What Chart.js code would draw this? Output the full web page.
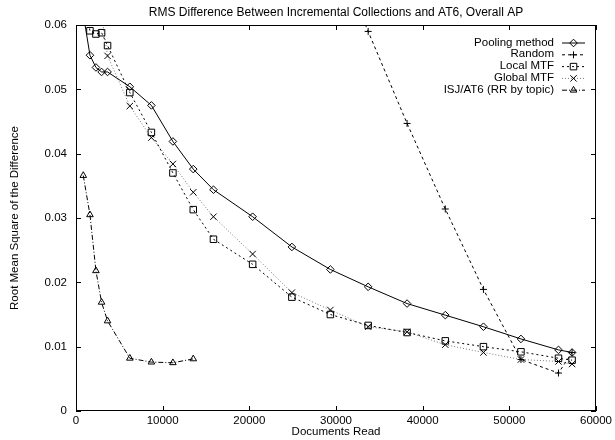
<!DOCTYPE html>
<html>
<head>
<meta charset="utf-8">
<script src="https://cdn.jsdelivr.net/npm/chart.js@4.4.0/dist/chart.umd.min.js"></script>
<style>
  body { margin: 0; background: #fff; }
  canvas { display: block; }
</style>
</head>
<body>
<canvas id="rmsChart" width="615" height="440"></canvas>
<script>
// documents read (x) and RMS difference (y) per method
const poolingX = [840, 1610, 2300, 2950, 3640, 6210, 8700, 11180, 13530, 15860, 20380, 24910, 29350, 33710, 38200, 42610, 47010, 51340, 55670, 57240];
const poolingY = [0.0617, 0.0553, 0.0534, 0.0527, 0.0527, 0.0504, 0.0475, 0.0419, 0.0376, 0.0344, 0.0302, 0.0255, 0.0220, 0.0193, 0.0167, 0.0149, 0.0131, 0.0112, 0.0095, 0.0091];

const randomX = [29350, 33710, 38200, 42610, 47010, 51340, 55670, 57240];
const randomY = [0.0730, 0.0590, 0.0447, 0.0314, 0.0189, 0.0080, 0.0059, 0.0091];

const localX = [840, 1610, 2300, 2950, 3640, 6210, 8700, 11180, 13530, 15860, 20380, 24910, 29350, 33710, 38200, 42610, 47010, 51340, 55670, 57240];
const localY = [0.0640, 0.0591, 0.0586, 0.0588, 0.0568, 0.0495, 0.0433, 0.0370, 0.0313, 0.0267, 0.0228, 0.0177, 0.0150, 0.0133, 0.0122, 0.0109, 0.0100, 0.0092, 0.0082, 0.0079];

const globalX = [2950, 3640, 6210, 8700, 11180, 13530, 15860, 20380, 24910, 29350, 33710, 38200, 42610, 47010, 51340, 55670, 57240];
const globalY = [0.0615, 0.0552, 0.0474, 0.0425, 0.0384, 0.0340, 0.0302, 0.0244, 0.0184, 0.0157, 0.0131, 0.0123, 0.0103, 0.0091, 0.0080, 0.0077, 0.0073];

const isjX = [840, 1610, 2300, 2950, 3640, 6210, 8700, 11180, 13530];
const isjY = [0.0366, 0.0305, 0.0218, 0.0169, 0.0140, 0.0082, 0.0076, 0.0075, 0.0081];

const xTicks = [0, 10000, 20000, 30000, 40000, 50000, 60000];
const yTicks = [0, 0.01, 0.02, 0.03, 0.04, 0.05, 0.06];

const FAMILY = '"Liberation Sans", Arial, Helvetica, sans-serif';
const FONT = { family: FAMILY, size: 11.5 };

function pts(xs, ys) {
    return xs.map((x, i) => ({ x: x, y: ys[i] }));
}

function series(label, xs, ys, style) {
    return Object.assign({
        label: label,
        data: pts(xs, ys),
        borderColor: '#000',
        borderWidth: 1,
        backgroundColor: 'rgba(0,0,0,0)',
        pointBackgroundColor: 'rgba(0,0,0,0)',
        pointBorderColor: '#000',
        pointBorderWidth: 1,
        pointHoverRadius: 0,
        tension: 0,
        fill: false,
        clip: 0
    }, style);
}

// gnuplot-like frame, inward ticks, title and key
const gnuplotFrame = {
    id: 'gnuplotFrame',
    afterDraw(chart) {
        const { ctx, chartArea: a, scales: { x, y } } = chart;
        ctx.save();
        ctx.strokeStyle = '#000';
        ctx.lineWidth = 1;
        ctx.setLineDash([]);
        ctx.strokeRect(Math.round(a.left) + 0.5, Math.round(a.top) + 0.5,
            Math.round(a.right - a.left) - 1, Math.round(a.bottom - a.top) - 1);

        const tl = 5;
        ctx.beginPath();
        xTicks.forEach(v => {
            const px = Math.round(x.getPixelForValue(v)) + 0.5;
            ctx.moveTo(px, a.bottom); ctx.lineTo(px, a.bottom - tl);
            ctx.moveTo(px, a.top); ctx.lineTo(px, a.top + tl);
        });
        yTicks.forEach(v => {
            const py = Math.round(y.getPixelForValue(v)) + 0.5;
            ctx.moveTo(a.left, py); ctx.lineTo(a.left + tl, py);
            ctx.moveTo(a.right, py); ctx.lineTo(a.right - tl, py);
        });
        ctx.stroke();

        // title
        ctx.fillStyle = '#000';
        ctx.font = `12px ${FAMILY}`;
        ctx.textAlign = 'center';
        ctx.textBaseline = 'middle';
        ctx.fillText('RMS Difference Between Incremental Collections and AT6, Overall AP',
            (a.left + a.right) / 2, 13);

        // key
        ctx.font = `${FONT.size}px ${FAMILY}`;
        ctx.textAlign = 'right';
        chart.data.datasets.forEach((ds, i) => {
            const ry = a.top + 17.5 + i * 11.8;
            ctx.fillStyle = '#000';
            ctx.fillText(ds.label, a.right - 42, ry);
            ctx.strokeStyle = ds.borderColor;
            ctx.setLineDash(ds.borderDash || []);
            ctx.beginPath();
            ctx.moveTo(a.right - 34, ry + 0.5);
            ctx.lineTo(a.right - 11, ry + 0.5);
            ctx.stroke();
            ctx.setLineDash([]);
            ctx.strokeStyle = '#000';
            ctx.fillStyle = 'rgba(0,0,0,0)';
            Chart.helpers.drawPoint(ctx, {
                pointStyle: ds.pointStyle,
                radius: ds.pointRadius,
                rotation: 0,
                borderWidth: 1
            }, a.right - 22.5, ry + 0.5);
        });
        ctx.restore();
    }
};

const ctx = document.getElementById('rmsChart').getContext('2d');
new Chart(ctx, {
    type: 'line',
    data: {
        datasets: [
            series('Pooling method', poolingX, poolingY, { pointStyle: 'rectRot', pointRadius: 3.8 }),
            series('Random', randomX, randomY, { pointStyle: 'cross', pointRadius: 3.5, borderDash: [3, 3] }),
            series('Local MTF', localX, localY, { pointStyle: 'rect', pointRadius: 4.6, borderDash: [2, 3] }),
            series('Global MTF', globalX, globalY, { pointStyle: 'crossRot', pointRadius: 4.5, borderDash: [1, 2], borderColor: '#777' }),
            series('ISJ/AT6 (RR by topic)', isjX, isjY, { pointStyle: 'triangle', pointRadius: 3.8, borderDash: [5, 2, 1, 2] })
        ]
    },
    options: {
        responsive: false,
        animation: false,
        events: [],
        layout: { padding: { left: 0, right: 17, top: 25, bottom: 0 } },
        plugins: {
            legend: { display: false },
            title: { display: false },
            tooltip: { enabled: false }
        },
        scales: {
            x: {
                type: 'linear',
                min: 0,
                max: 60000,
                afterBuildTicks: s => { s.ticks = xTicks.map(v => ({ value: v })); },
                afterFit: s => { s.height = 29; },
                grid: { display: false, drawTicks: false },
                border: { display: false },
                ticks: {
                    color: '#000',
                    font: FONT,
                    padding: 3,
                    maxRotation: 0,
                    callback: v => String(v)
                },
                title: {
                    display: true,
                    text: 'Documents Read',
                    color: '#000',
                    font: FONT,
                    padding: { top: 0, bottom: 1.5 }
                }
            },
            y: {
                type: 'linear',
                min: 0,
                max: 0.06,
                afterBuildTicks: s => { s.ticks = yTicks.map(v => ({ value: v })); },
                afterFit: s => { s.width = 76; },
                grid: { display: false, drawTicks: false },
                border: { display: false },
                ticks: {
                    color: '#000',
                    font: FONT,
                    padding: 9,
                    callback: v => String(Number(v.toFixed(2)))
                },
                title: {
                    display: true,
                    text: 'Root Mean Square of the Difference',
                    color: '#000',
                    font: FONT,
                    padding: { top: 8.4, bottom: 0 }
                }
            }
        }
    },
    plugins: [gnuplotFrame]
});
</script>
</body>
</html>
